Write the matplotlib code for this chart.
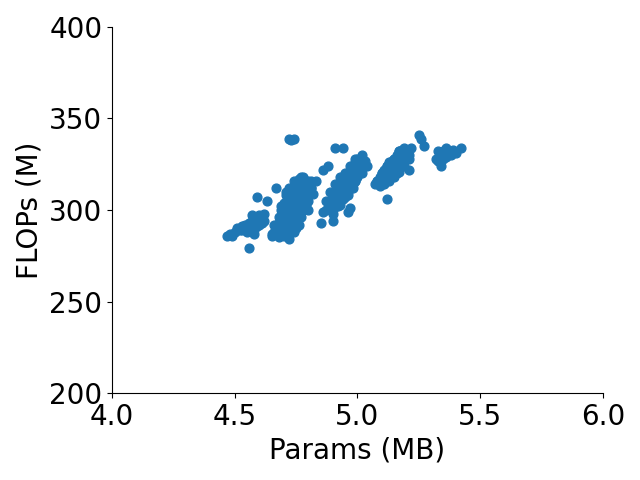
import matplotlib
matplotlib.use("Agg")
import matplotlib.pyplot as plt

# Cúmulos de arquitecturas (Params en MB, FLOPs en M)
params_a = [4.47, 4.48, 4.49, 4.50, 4.51, 4.52, 4.53, 4.55, 4.56, 4.57, 4.58, 4.59,
            4.60, 4.61, 4.62, 4.57, 4.58, 4.56, 4.59, 4.63, 4.60, 4.61, 4.62, 4.55, 4.54,
            4.53, 4.57, 4.59]
flops_a = [286, 287, 286, 288, 290, 289, 291, 290, 293, 291, 289, 295,
           297, 296, 298, 297, 287, 279, 307, 305, 292, 293, 294, 288, 292,
           289, 294, 291]

params_b = [4.65, 4.66, 4.67, 4.68, 4.69, 4.70, 4.71, 4.72, 4.73, 4.74, 4.75, 4.76,
            4.77, 4.78, 4.79, 4.80, 4.81, 4.82, 4.80, 4.78, 4.76, 4.74, 4.73, 4.72,
            4.70, 4.68, 4.67, 4.72, 4.73, 4.74, 4.71, 4.72, 4.73, 4.74, 4.75, 4.76,
            4.77, 4.78, 4.79, 4.70, 4.69, 4.71, 4.74, 4.75, 4.77, 4.81, 4.83, 4.75,
            4.73, 4.80, 4.79, 4.66, 4.69, 4.71, 4.76,
            4.65, 4.68, 4.71, 4.74, 4.67, 4.70, 4.73, 4.76, 4.68, 4.71, 4.74, 4.77,
            4.69, 4.72, 4.75, 4.78, 4.70, 4.73, 4.76, 4.79, 4.71, 4.74, 4.77, 4.80,
            4.72, 4.75, 4.78, 4.81, 4.74, 4.77, 4.80]
flops_b = [286, 288, 290, 293, 296, 300, 304, 307, 310, 312, 315, 317,
           318, 318, 316, 314, 312, 309, 305, 300, 297, 292, 288, 284,
           286, 285, 312, 339, 338, 339, 295, 300, 305, 302, 308, 306,
           310, 312, 308, 292, 290, 298, 296, 300, 304, 316, 316, 290,
           294, 300, 303, 292, 302, 310, 312,
           287, 287, 288, 288, 292, 292, 292, 292, 296, 296, 296, 296,
           300, 300, 300, 300, 304, 304, 304, 304, 308, 308, 308, 308,
           312, 312, 312, 312, 316, 316, 316]

params_c = [4.86, 4.88, 4.89, 4.90, 4.91, 4.92, 4.93, 4.94, 4.95, 4.96, 4.97, 4.98,
            4.99, 5.00, 5.02, 5.04, 5.02, 5.00, 4.98, 4.96, 4.94, 4.92, 4.90, 4.90,
            4.85, 4.96, 4.97, 4.91, 4.94, 4.86, 4.88, 4.92, 4.95, 4.97, 4.99, 5.01,
            4.93, 4.95, 4.89, 4.91, 4.93, 4.87, 4.99, 5.01, 5.03,
            4.87, 4.90, 4.89, 4.92, 4.90, 4.93, 4.96, 4.92, 4.95, 4.98, 4.93, 4.96,
            4.99, 4.95, 4.98, 5.01, 4.97, 5.00, 5.03, 4.99, 5.02]
flops_c = [299, 301, 305, 307, 310, 312, 314, 316, 318, 320, 322, 324,
           326, 328, 330, 324, 320, 318, 314, 310, 306, 302, 298, 294,
           293, 299, 301, 334, 334, 322, 324, 308, 312, 316, 320, 323,
           303, 307, 310, 314, 318, 305, 316, 328, 327,
           300, 300, 304, 304, 308, 308, 308, 312, 312, 312, 316, 316,
           316, 320, 320, 320, 324, 324, 324, 328, 328]

params_d = [5.07, 5.08, 5.09, 5.10, 5.11, 5.12, 5.13, 5.14, 5.15, 5.16, 5.17, 5.18,
            5.19, 5.20, 5.21, 5.22, 5.19, 5.17, 5.15, 5.13, 5.11, 5.09, 5.12, 5.25,
            5.26, 5.27, 5.14, 5.16, 5.18, 5.20, 5.12, 5.10, 5.21,
            5.08, 5.11, 5.10, 5.13, 5.16, 5.12, 5.15, 5.18, 5.15, 5.18, 5.21, 5.17, 5.20]
flops_d = [314, 316, 318, 320, 322, 324, 326, 327, 328, 330, 332, 333,
           334, 332, 330, 334, 324, 321, 318, 316, 314, 313, 306, 341,
           339, 335, 320, 324, 327, 328, 318, 316, 322,
           316, 316, 320, 320, 320, 324, 324, 324, 328, 328, 328, 332, 332]

params_e = [5.32, 5.33, 5.34, 5.35, 5.36, 5.37, 5.38, 5.40, 5.42, 5.34, 5.33, 5.35,
            5.36, 5.39]
flops_e = [328, 327, 330, 332, 334, 331, 330, 331, 334, 324, 332, 328,
           329, 333]

params = params_a + params_b + params_c + params_d + params_e
flops = flops_a + flops_b + flops_c + flops_d + flops_e

fig, ax = plt.subplots(figsize=(6.4, 4.8), dpi=100)
ax.scatter(params, flops, color='#1f77b4', s=40)
ax.set_xlim(4.0, 6.0)
ax.set_ylim(200, 400)
ax.set_xticks([4.0, 4.5, 5.0, 5.5, 6.0])
ax.set_yticks([200, 250, 300, 350, 400])
ax.set_xlabel("Params (MB)", fontsize=20)
ax.set_ylabel("FLOPs (M)", fontsize=20)
ax.tick_params(labelsize=20)
ax.spines['top'].set_visible(False)
ax.spines['right'].set_visible(False)
plt.subplots_adjust(left=0.175, right=0.942, top=0.944, bottom=0.181)
plt.savefig("out.png")
